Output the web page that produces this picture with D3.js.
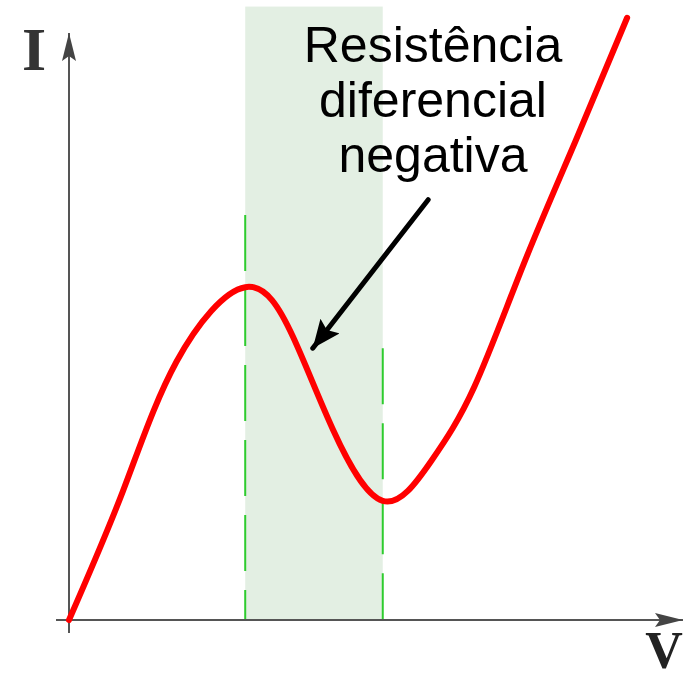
<!DOCTYPE html>
<html>
<head>
<meta charset="utf-8">
<script src="https://cdn.jsdelivr.net/npm/d3@7"></script>
<style>
  body { margin: 0; background: #fff; }
  svg { display: block; }
</style>
</head>
<body>
<div id="chart"></div>
<script>
// I-V curve (arbitrary units)
const voltage = [0, 8.8, 17.5, 28.7, 36.5, 43.0, 51.1, 59.0, 66.0, 74.0, 82.5, 90.9];
const current = [0, 22.0, 44.0, 56.7, 48.2, 32.4, 20.3, 27.1, 39.7, 60.5, 81.6, 102.6];

// negative differential resistance region
const ndrStart = 28.7;
const ndrEnd = 51.1;
const ndrTop = 104.5;
const dashTops = [69, 46.3];

const labelLines = ["Resistência", "diferencial", "negativa"];
const pointer = { from: [58.5, 71.6], to: [39.7, 46.3] };

const width = 691;
const height = 676;
const origin = { x: 69, y: 620 };

const svg = d3.select("#chart").append("svg")
  .attr("width", width)
  .attr("height", height);

const x = d3.scaleLinear().domain([0, 100]).range([origin.x, 683]);
const y = d3.scaleLinear().domain([0, 100]).range([origin.y, 33]);

const defs = svg.append("defs");
defs.append("marker")
  .attr("id", "axisHead")
  .attr("viewBox", "0 0 28 14")
  .attr("refX", 28).attr("refY", 7)
  .attr("markerUnits", "userSpaceOnUse")
  .attr("markerWidth", 28).attr("markerHeight", 14)
  .attr("orient", "auto")
  .append("path")
  .attr("d", "M0,0 L28,7 L0,14 L5,7 Z")
  .attr("fill", "#444");

defs.append("marker")
  .attr("id", "pointerHead")
  .attr("viewBox", "0 0 28 24")
  .attr("refX", 28).attr("refY", 12)
  .attr("markerUnits", "userSpaceOnUse")
  .attr("markerWidth", 28).attr("markerHeight", 24)
  .attr("orient", "auto")
  .append("path")
  .attr("d", "M0,0 L28,12 L0,24 L5,12 Z")
  .attr("fill", "#000");

// shaded region
svg.append("rect")
  .attr("x", x(ndrStart))
  .attr("y", y(ndrTop))
  .attr("width", x(ndrEnd) - x(ndrStart))
  .attr("height", y(0) - y(ndrTop))
  .attr("fill", "#e3efe3");

// dashed green guides
svg.selectAll("line.guide")
  .data([ndrStart, ndrEnd])
  .join("line")
  .attr("class", "guide")
  .attr("x1", d => x(d)).attr("x2", d => x(d))
  .attr("y1", (d, i) => y(dashTops[i]))
  .attr("y2", y(0))
  .attr("stroke", "#2ecc2e")
  .attr("stroke-width", 2)
  .attr("stroke-dasharray", "56,19");

// axes
svg.append("line")
  .attr("x1", origin.x).attr("x2", origin.x)
  .attr("y1", origin.y + 13).attr("y2", y(100))
  .attr("stroke", "#555").attr("stroke-width", 2)
  .attr("marker-end", "url(#axisHead)");

svg.append("line")
  .attr("x1", origin.x - 13).attr("x2", x(100))
  .attr("y1", origin.y).attr("y2", origin.y)
  .attr("stroke", "#555").attr("stroke-width", 2)
  .attr("marker-end", "url(#axisHead)");

// I-V curve
const points = voltage.map((v, i) => [v, current[i]]);
const line = d3.line()
  .x(d => x(d[0]))
  .y(d => y(d[1]))
  .curve(d3.curveNatural);

svg.append("path")
  .datum(points)
  .attr("d", line)
  .attr("fill", "none")
  .attr("stroke", "#ff0000")
  .attr("stroke-width", 6)
  .attr("stroke-linecap", "round");

// pointer arrow
svg.append("line")
  .attr("x1", x(pointer.from[0])).attr("y1", y(pointer.from[1]))
  .attr("x2", x(pointer.to[0])).attr("y2", y(pointer.to[1]))
  .attr("stroke", "#000").attr("stroke-width", 5)
  .attr("stroke-linecap", "round")
  .attr("marker-end", "url(#pointerHead)");

// annotation text
svg.append("text")
  .attr("x", 433)
  .attr("y", 62)
  .attr("text-anchor", "middle")
  .style("font-family", "'Liberation Sans', Arial, sans-serif")
  .style("font-size", "50px")
  .attr("fill", "#000")
  .selectAll("tspan")
  .data(labelLines)
  .join("tspan")
  .attr("x", 433)
  .attr("dy", (d, i) => i === 0 ? 0 : 55)
  .text(d => d);

// axis labels
svg.append("text")
  .attr("x", 34).attr("y", 70)
  .attr("text-anchor", "middle")
  .style("font-family", "'Liberation Serif', 'Times New Roman', serif")
  .style("font-weight", "bold")
  .style("font-size", "62px")
  .attr("fill", "#333")
  .text("I");

svg.append("text")
  .attr("x", 664).attr("y", 668)
  .attr("text-anchor", "middle")
  .style("font-family", "'Liberation Serif', 'Times New Roman', serif")
  .style("font-weight", "bold")
  .style("font-size", "52px")
  .attr("fill", "#222")
  .text("V");
</script>
</body>
</html>
